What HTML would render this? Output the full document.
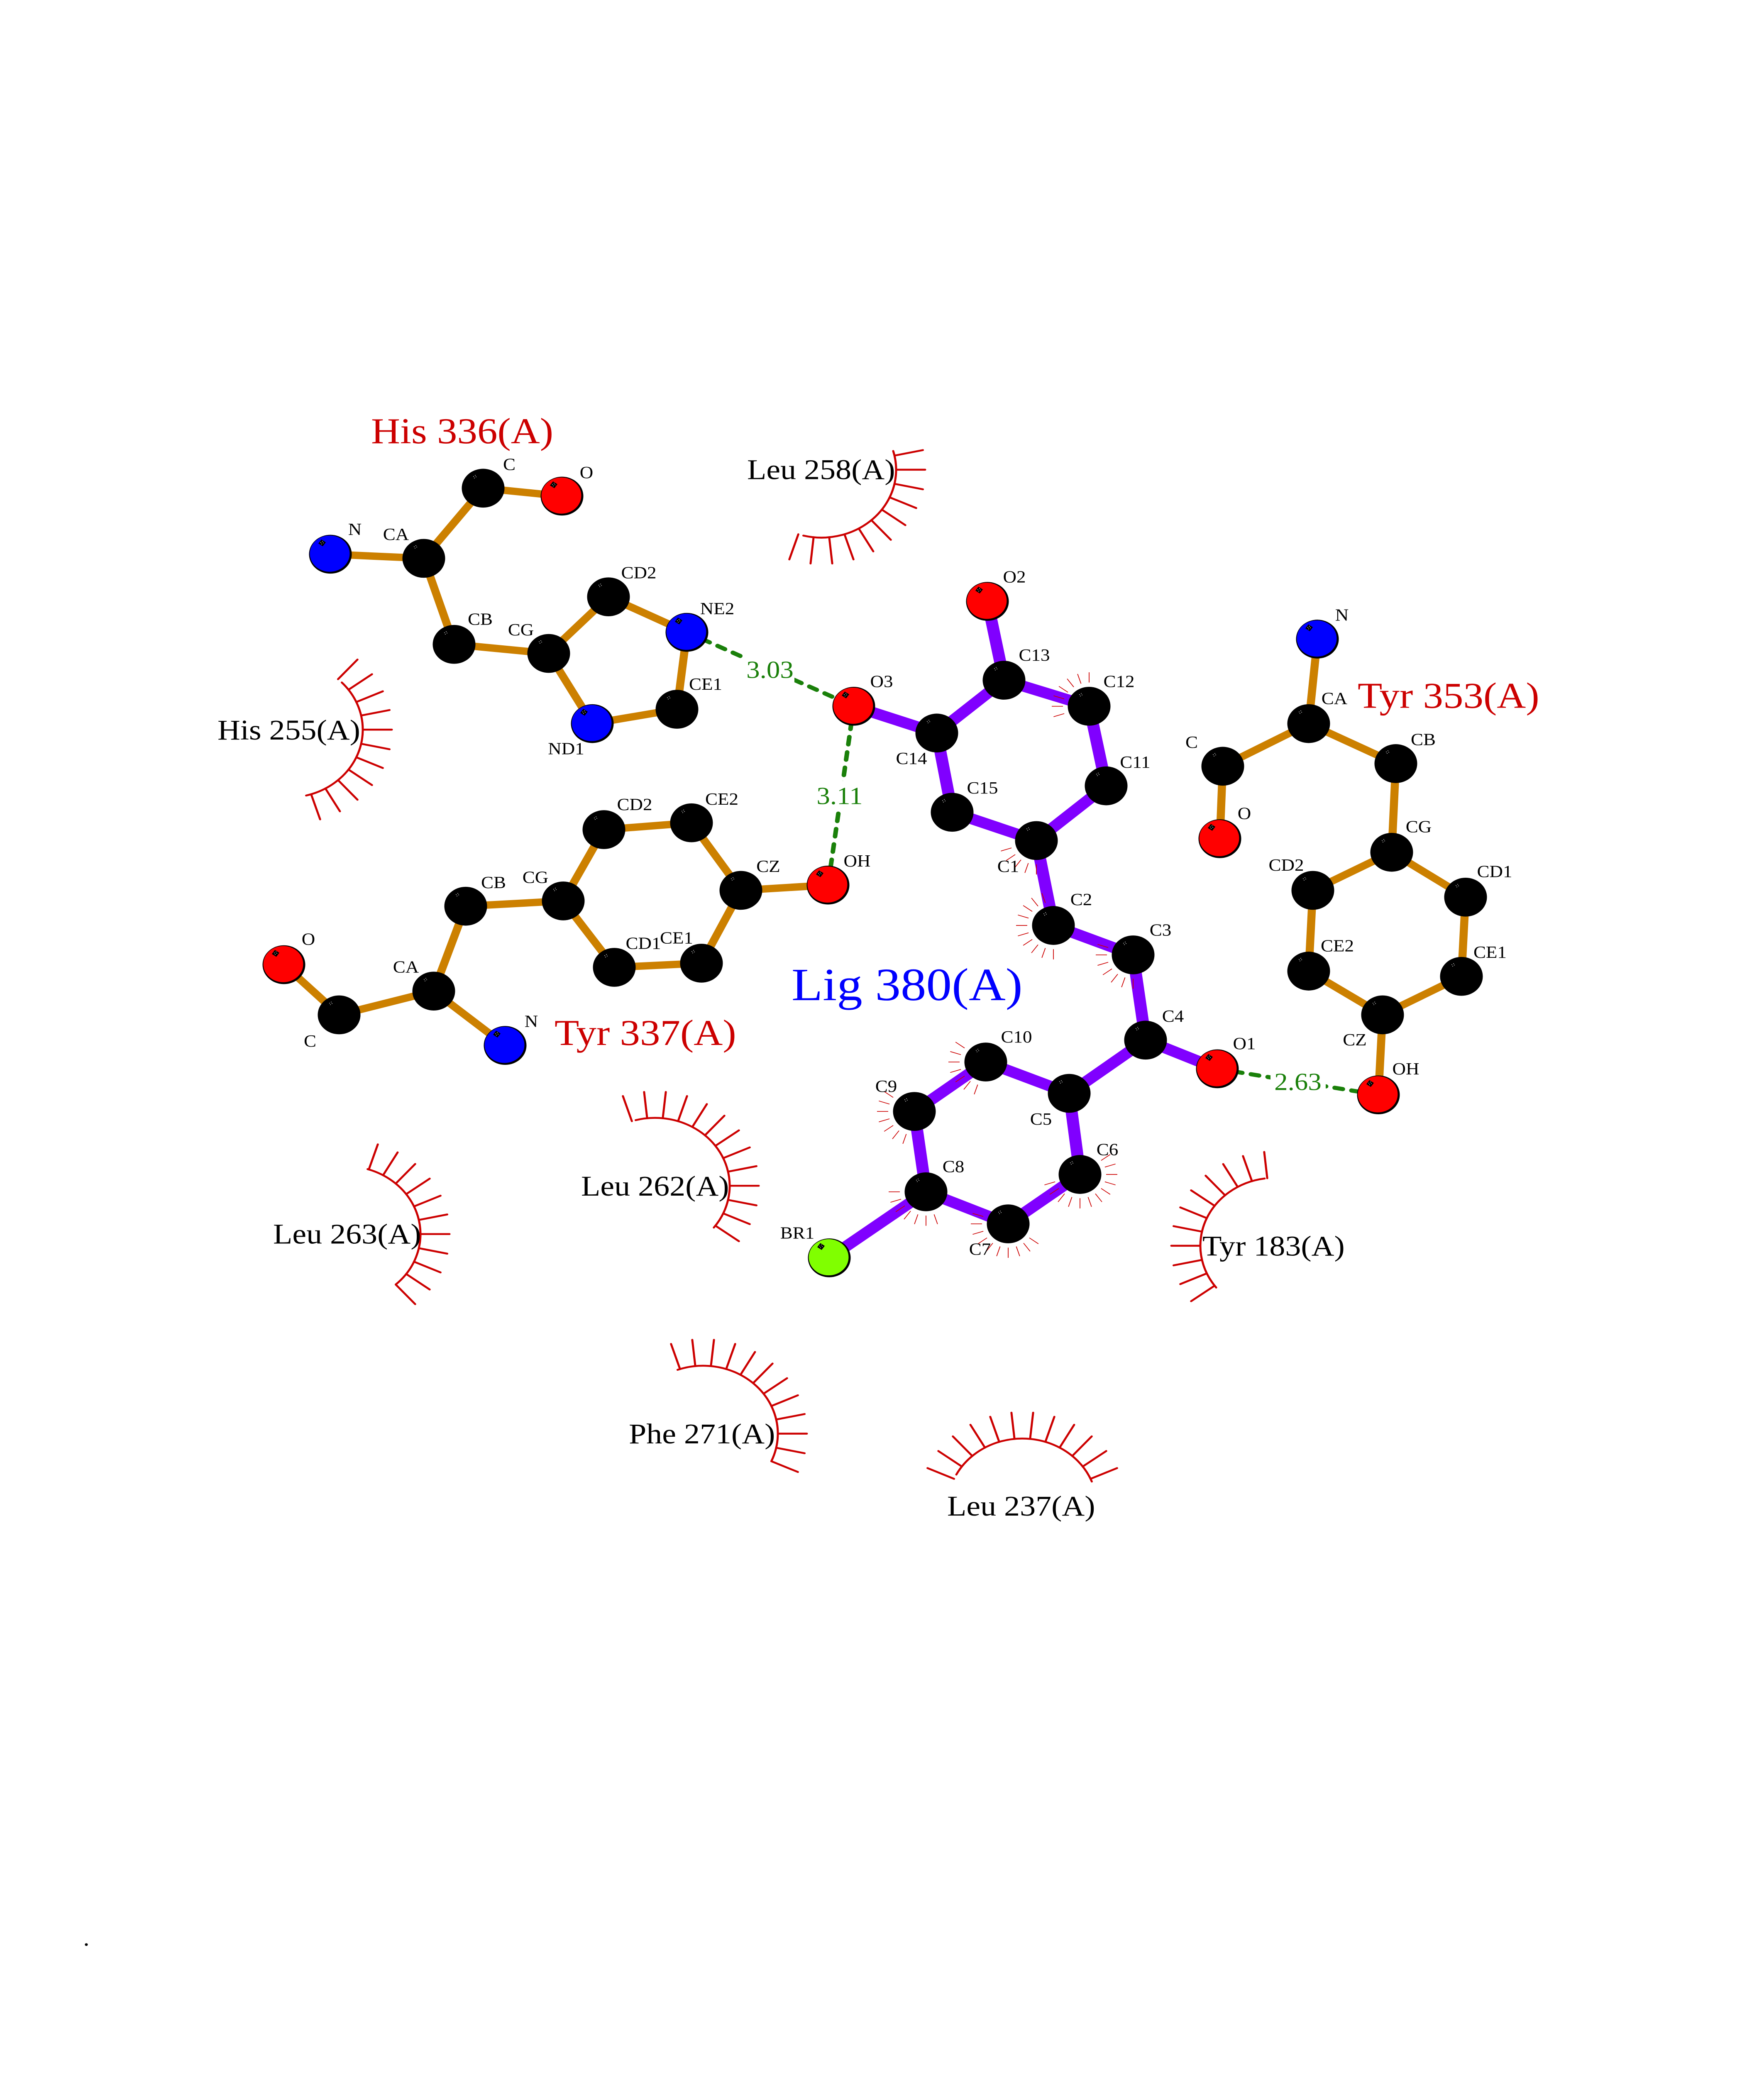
<!DOCTYPE html>
<html><head><meta charset="utf-8"><title>Ligand interaction diagram</title>
<style>
html,body{margin:0;padding:0;background:#fff;width:100%;height:100%;overflow:hidden}
svg{display:block;position:fixed;left:0;top:0;width:100vw;height:100vh;overflow:hidden}
text{font-family:"Liberation Serif",serif}
.a text{font-size:45px;text-anchor:middle;fill:#000}
.g text{font-size:65px;text-anchor:middle;fill:#1a800a}
.R text{font-size:76px;fill:#000}
.big text{font-size:97px;fill:#c00}
.o line{stroke:#cc8000;stroke-width:19.5}
.p line{stroke:#8000ff;stroke-width:29}
.h line{stroke:#1a800a;stroke-width:11;stroke-dasharray:20 21;stroke-linecap:round}
.w circle{fill:none;stroke:#c00;stroke-width:5;stroke-linecap:round}
</style></head><body>
<svg xmlns="http://www.w3.org/2000/svg" viewBox="0 0 4250 5500" preserveAspectRatio="none">
<defs>
<g id="m"><rect x="-6.5" y="-6.5" width="13" height="13" fill="#000" transform="translate(-20 -30) rotate(35)"/><g fill="#fff"><circle cx="-23" cy="-31" r="0.9"/><circle cx="-19" cy="-34" r="0.9"/><circle cx="-21" cy="-27" r="0.9"/><circle cx="-17" cy="-30" r="0.9"/></g></g>
<g id="k"><circle r="51.5" fill="#000"/><use href="#m"/></g>
<g id="r"><circle r="51.5" fill="#000"/><circle cx="-1.5" cy="-1.5" r="48" fill="#f00"/><use href="#m"/></g>
<g id="b"><circle r="51.5" fill="#000"/><circle cx="-1.5" cy="-1.5" r="48" fill="#00f"/><use href="#m"/></g>
<g id="l"><circle r="51.5" fill="#000"/><circle cx="-1.5" cy="-1.5" r="48" fill="#80ff00"/><use href="#m"/></g>
<line id="t" x1="63" x2="90" y1="0" y2="0"/>
<line id="T" x1="180" x2="250" y1="0" y2="0"/>
</defs>
<rect width="4250" height="5500" fill="#fff"/>

<!-- His 336 bonds -->
<g class="o">
<line x1="796" y1="1469" x2="1021" y2="1480"/><line x1="1021" y1="1480" x2="1164" y2="1294"/><line x1="1164" y1="1294" x2="1354" y2="1315"/><line x1="1021" y1="1480" x2="1094" y2="1708"/><line x1="1094" y1="1708" x2="1322" y2="1732"/><line x1="1322" y1="1732" x2="1466" y2="1582"/><line x1="1466" y1="1582" x2="1655" y2="1676"/><line x1="1655" y1="1676" x2="1631" y2="1880"/><line x1="1631" y1="1880" x2="1427" y2="1918"/><line x1="1427" y1="1918" x2="1322" y2="1732"/>
<!-- Tyr 337 -->
<line x1="684" y1="2557" x2="817" y2="2690"/><line x1="817" y1="2690" x2="1045" y2="2627"/><line x1="1045" y1="2627" x2="1217" y2="2771"/><line x1="1045" y1="2627" x2="1122" y2="2402"/><line x1="1122" y1="2402" x2="1357" y2="2388"/><line x1="1357" y1="2388" x2="1455" y2="2199"/><line x1="1455" y1="2199" x2="1666" y2="2181"/><line x1="1666" y1="2181" x2="1785" y2="2360"/><line x1="1785" y1="2360" x2="1690" y2="2553"/><line x1="1690" y1="2553" x2="1480" y2="2564"/><line x1="1480" y1="2564" x2="1357" y2="2388"/><line x1="1785" y1="2360" x2="1995" y2="2346"/>
<!-- Tyr 353 -->
<line x1="3174" y1="1694" x2="3153" y2="1918"/><line x1="3153" y1="1918" x2="2946" y2="2031"/><line x1="2946" y1="2031" x2="2939" y2="2223"/><line x1="3153" y1="1918" x2="3363" y2="2024"/><line x1="3363" y1="2024" x2="3353" y2="2259"/><line x1="3353" y1="2259" x2="3531" y2="2378"/><line x1="3531" y1="2378" x2="3521" y2="2588"/><line x1="3521" y1="2588" x2="3331" y2="2690"/><line x1="3331" y1="2690" x2="3153" y2="2574"/><line x1="3153" y1="2574" x2="3163" y2="2360"/><line x1="3163" y1="2360" x2="3353" y2="2259"/><line x1="3331" y1="2690" x2="3321" y2="2902"/>
</g>

<!-- Ligand bonds -->
<g class="p">
<line x1="2379" y1="1594" x2="2419" y2="1803"/><line x1="2419" y1="1803" x2="2624" y2="1872"/><line x1="2624" y1="1872" x2="2665" y2="2083"/><line x1="2665" y1="2083" x2="2497" y2="2228"/><line x1="2497" y1="2228" x2="2294" y2="2153"/><line x1="2294" y1="2153" x2="2257" y2="1943"/><line x1="2257" y1="1943" x2="2419" y2="1803"/><line x1="2257" y1="1943" x2="2057" y2="1872"/><line x1="2497" y1="2228" x2="2538" y2="2453"/><line x1="2538" y1="2453" x2="2730" y2="2531"/><line x1="2730" y1="2531" x2="2760" y2="2757"/><line x1="2760" y1="2757" x2="2933" y2="2833"/><line x1="2760" y1="2757" x2="2576" y2="2898"/><line x1="2576" y1="2898" x2="2375" y2="2815"/><line x1="2375" y1="2815" x2="2203" y2="2946"/><line x1="2203" y1="2946" x2="2231" y2="3159"/><line x1="2231" y1="3159" x2="2429" y2="3244"/><line x1="2429" y1="3244" x2="2602" y2="3113"/><line x1="2602" y1="3113" x2="2576" y2="2898"/><line x1="2231" y1="3159" x2="1998" y2="3334"/>
</g>

<!-- H-bonds -->
<g class="h">
<line x1="1655" y1="1676" x2="2057" y2="1872"/>
<line x1="2057" y1="1872" x2="1995" y2="2346"/>
<line x1="2933" y1="2833" x2="3321" y2="2902"/>
</g>
<g fill="#fff"><rect x="1796" y="1742" width="118" height="66"/><rect x="1964" y="2070" width="118" height="74"/><rect x="3061" y="2825" width="133" height="74"/></g>
<g class="g">
<text x="1855" y="1797">3.03</text>
<text x="2023" y="2131">3.11</text>
<text x="3127" y="2889">2.63</text>
</g>

<!-- Atoms -->
<use href="#b" x="796" y="1469"/><use href="#k" x="1021" y="1480"/><use href="#k" x="1164" y="1294"/><use href="#r" x="1354" y="1315"/><use href="#k" x="1094" y="1708"/><use href="#k" x="1322" y="1732"/><use href="#k" x="1466" y="1582"/><use href="#b" x="1655" y="1676"/><use href="#k" x="1631" y="1880"/><use href="#b" x="1427" y="1918"/>
<use href="#r" x="684" y="2557"/><use href="#k" x="817" y="2690"/><use href="#k" x="1045" y="2627"/><use href="#b" x="1217" y="2771"/><use href="#k" x="1122" y="2402"/><use href="#k" x="1357" y="2388"/><use href="#k" x="1455" y="2199"/><use href="#k" x="1666" y="2181"/><use href="#k" x="1785" y="2360"/><use href="#r" x="1995" y="2346"/><use href="#k" x="1690" y="2553"/><use href="#k" x="1480" y="2564"/>
<use href="#b" x="3174" y="1694"/><use href="#k" x="3153" y="1918"/><use href="#k" x="2946" y="2031"/><use href="#r" x="2939" y="2223"/><use href="#k" x="3363" y="2024"/><use href="#k" x="3353" y="2259"/><use href="#k" x="3531" y="2378"/><use href="#k" x="3163" y="2360"/><use href="#k" x="3521" y="2588"/><use href="#k" x="3153" y="2574"/><use href="#k" x="3331" y="2690"/><use href="#r" x="3321" y="2902"/>
<use href="#r" x="2379" y="1594"/><use href="#k" x="2419" y="1803"/><use href="#k" x="2624" y="1872"/><use href="#k" x="2665" y="2083"/><use href="#k" x="2497" y="2228"/><use href="#k" x="2294" y="2153"/><use href="#k" x="2257" y="1943"/><use href="#r" x="2057" y="1872"/><use href="#k" x="2538" y="2453"/><use href="#k" x="2730" y="2531"/><use href="#k" x="2760" y="2757"/><use href="#r" x="2933" y="2833"/><use href="#k" x="2576" y="2898"/><use href="#k" x="2375" y="2815"/><use href="#k" x="2203" y="2946"/><use href="#k" x="2231" y="3159"/><use href="#k" x="2429" y="3244"/><use href="#k" x="2602" y="3113"/><use href="#l" x="1998" y="3334"/>

<!-- Small atom contact fans -->
<g stroke="#c00" stroke-width="1.8">
<g transform="translate(2624 1872)"><use href="#t" transform="rotate(162)"/><use href="#t" transform="rotate(180)"/><use href="#t" transform="rotate(198)"/><use href="#t" transform="rotate(216)"/><use href="#t" transform="rotate(234)"/><use href="#t" transform="rotate(252)"/><use href="#t" transform="rotate(270)"/></g>
<g transform="translate(2497 2228)"><use href="#t" transform="rotate(90)"/><use href="#t" transform="rotate(108)"/><use href="#t" transform="rotate(126)"/><use href="#t" transform="rotate(144)"/><use href="#t" transform="rotate(162)"/></g>
<g transform="translate(2538 2453)"><use href="#t" transform="rotate(90)"/><use href="#t" transform="rotate(108)"/><use href="#t" transform="rotate(126)"/><use href="#t" transform="rotate(144)"/><use href="#t" transform="rotate(162)"/><use href="#t" transform="rotate(180)"/><use href="#t" transform="rotate(198)"/><use href="#t" transform="rotate(216)"/><use href="#t" transform="rotate(234)"/><use href="#t" transform="rotate(252)"/></g>
<g transform="translate(2730 2531)"><use href="#t" transform="rotate(90)"/><use href="#t" transform="rotate(108)"/><use href="#t" transform="rotate(126)"/><use href="#t" transform="rotate(144)"/><use href="#t" transform="rotate(162)"/><use href="#t" transform="rotate(180)"/><use href="#t" transform="rotate(198)"/></g>
<g transform="translate(2203 2946)"><use href="#t" transform="rotate(108)"/><use href="#t" transform="rotate(126)"/><use href="#t" transform="rotate(144)"/><use href="#t" transform="rotate(162)"/><use href="#t" transform="rotate(180)"/><use href="#t" transform="rotate(198)"/><use href="#t" transform="rotate(216)"/></g>
<g transform="translate(2375 2815)"><use href="#t" transform="rotate(108)"/><use href="#t" transform="rotate(126)"/><use href="#t" transform="rotate(144)"/><use href="#t" transform="rotate(162)"/><use href="#t" transform="rotate(180)"/><use href="#t" transform="rotate(198)"/><use href="#t" transform="rotate(216)"/></g>
<g transform="translate(2231 3159)"><use href="#t" transform="rotate(72)"/><use href="#t" transform="rotate(90)"/><use href="#t" transform="rotate(108)"/><use href="#t" transform="rotate(126)"/><use href="#t" transform="rotate(144)"/><use href="#t" transform="rotate(162)"/><use href="#t" transform="rotate(180)"/></g>
<g transform="translate(2429 3244)"><use href="#t" transform="rotate(36)"/><use href="#t" transform="rotate(54)"/><use href="#t" transform="rotate(72)"/><use href="#t" transform="rotate(90)"/><use href="#t" transform="rotate(108)"/><use href="#t" transform="rotate(126)"/><use href="#t" transform="rotate(144)"/><use href="#t" transform="rotate(162)"/><use href="#t" transform="rotate(180)"/><use href="#t" transform="rotate(198)"/></g>
<g transform="translate(2602 3113)"><use href="#t" transform="rotate(-36)"/><use href="#t" transform="rotate(-18)"/><use href="#t" transform="rotate(0)"/><use href="#t" transform="rotate(18)"/><use href="#t" transform="rotate(36)"/><use href="#t" transform="rotate(54)"/><use href="#t" transform="rotate(72)"/><use href="#t" transform="rotate(90)"/><use href="#t" transform="rotate(108)"/><use href="#t" transform="rotate(126)"/><use href="#t" transform="rotate(144)"/><use href="#t" transform="rotate(162)"/></g>
</g>

<!-- Hydrophobic arcs -->
<g class="w" stroke="#c00" stroke-width="5" stroke-linecap="round">
<g transform="translate(1979 1245)"><circle r="180" pathLength="360" stroke-dasharray="120 240" transform="rotate(-16)"/><use href="#T" transform="rotate(-12)"/><use href="#T" transform="rotate(0)"/><use href="#T" transform="rotate(12)"/><use href="#T" transform="rotate(24)"/><use href="#T" transform="rotate(36)"/><use href="#T" transform="rotate(48)"/><use href="#T" transform="rotate(60)"/><use href="#T" transform="rotate(72)"/><use href="#T" transform="rotate(84)"/><use href="#T" transform="rotate(96)"/><use href="#T" transform="rotate(108)"/></g>
<g transform="translate(694 1934)"><circle r="180" pathLength="360" stroke-dasharray="120 240" transform="rotate(-44)"/><use href="#T" transform="rotate(-48)"/><use href="#T" transform="rotate(-36)"/><use href="#T" transform="rotate(-24)"/><use href="#T" transform="rotate(-12)"/><use href="#T" transform="rotate(0)"/><use href="#T" transform="rotate(12)"/><use href="#T" transform="rotate(24)"/><use href="#T" transform="rotate(36)"/><use href="#T" transform="rotate(48)"/><use href="#T" transform="rotate(60)"/><use href="#T" transform="rotate(72)"/></g>
<g transform="translate(833 3271)"><circle r="180" pathLength="360" stroke-dasharray="121 239" transform="rotate(-73)"/><use href="#T" transform="rotate(-72)"/><use href="#T" transform="rotate(-60)"/><use href="#T" transform="rotate(-48)"/><use href="#T" transform="rotate(-36)"/><use href="#T" transform="rotate(-24)"/><use href="#T" transform="rotate(-12)"/><use href="#T" transform="rotate(0)"/><use href="#T" transform="rotate(12)"/><use href="#T" transform="rotate(24)"/><use href="#T" transform="rotate(36)"/><use href="#T" transform="rotate(48)"/></g>
<g transform="translate(1578 3143)"><circle r="180" pathLength="360" stroke-dasharray="143 217" transform="rotate(-105)"/><use href="#T" transform="rotate(-108)"/><use href="#T" transform="rotate(-96)"/><use href="#T" transform="rotate(-84)"/><use href="#T" transform="rotate(-72)"/><use href="#T" transform="rotate(-60)"/><use href="#T" transform="rotate(-48)"/><use href="#T" transform="rotate(-36)"/><use href="#T" transform="rotate(-24)"/><use href="#T" transform="rotate(-12)"/><use href="#T" transform="rotate(0)"/><use href="#T" transform="rotate(12)"/><use href="#T" transform="rotate(24)"/><use href="#T" transform="rotate(36)"/></g>
<g transform="translate(1694 3800)"><circle r="180" pathLength="360" stroke-dasharray="134 226" transform="rotate(-110)"/><use href="#T" transform="rotate(-108)"/><use href="#T" transform="rotate(-96)"/><use href="#T" transform="rotate(-84)"/><use href="#T" transform="rotate(-72)"/><use href="#T" transform="rotate(-60)"/><use href="#T" transform="rotate(-48)"/><use href="#T" transform="rotate(-36)"/><use href="#T" transform="rotate(-24)"/><use href="#T" transform="rotate(-12)"/><use href="#T" transform="rotate(0)"/><use href="#T" transform="rotate(12)"/><use href="#T" transform="rotate(24)"/></g>
<g transform="translate(2463 3993)"><circle r="180" pathLength="360" stroke-dasharray="130.5 229.5" transform="rotate(-152)"/><use href="#T" transform="rotate(-156)"/><use href="#T" transform="rotate(-144)"/><use href="#T" transform="rotate(-132)"/><use href="#T" transform="rotate(-120)"/><use href="#T" transform="rotate(-108)"/><use href="#T" transform="rotate(-96)"/><use href="#T" transform="rotate(-84)"/><use href="#T" transform="rotate(-72)"/><use href="#T" transform="rotate(-60)"/><use href="#T" transform="rotate(-48)"/><use href="#T" transform="rotate(-36)"/><use href="#T" transform="rotate(-24)"/></g>
<g transform="translate(3072 3302)"><circle r="180" pathLength="360" stroke-dasharray="120 240" transform="rotate(142)"/><use href="#T" transform="rotate(144)"/><use href="#T" transform="rotate(156)"/><use href="#T" transform="rotate(168)"/><use href="#T" transform="rotate(180)"/><use href="#T" transform="rotate(192)"/><use href="#T" transform="rotate(204)"/><use href="#T" transform="rotate(216)"/><use href="#T" transform="rotate(228)"/><use href="#T" transform="rotate(240)"/><use href="#T" transform="rotate(252)"/><use href="#T" transform="rotate(264)"/></g>
</g>

<!-- Atom labels -->
<g class="a">
<text x="855" y="1418">N</text><text x="954" y="1431">CA</text><text x="1227" y="1246">C</text><text x="1413" y="1267">O</text><text x="1157" y="1656">CB</text><text x="1255" y="1684">CG</text><text x="1539" y="1533">CD2</text><text x="1728" y="1628">NE2</text><text x="1700" y="1828">CE1</text><text x="1364" y="1999">ND1</text>
<text x="743" y="2504">O</text><text x="747" y="2774">C</text><text x="978" y="2578">CA</text><text x="1280" y="2722">N</text><text x="1189" y="2354">CB</text><text x="1290" y="2340">CG</text><text x="1529" y="2147">CD2</text><text x="1739" y="2133">CE2</text><text x="1851" y="2311">CZ</text><text x="2065" y="2297">OH</text><text x="1630" y="2501">CE1</text><text x="1550" y="2515">CD1</text>
<text x="2124" y="1821">O3</text><text x="2492" y="1751">C13</text><text x="2196" y="2025">C14</text><text x="2367" y="2103">C15</text><text x="2444" y="1544">O2</text><text x="2696" y="1821">C12</text><text x="2735" y="2035">C11</text><text x="2429" y="2311">C1</text><text x="2605" y="2399">C2</text><text x="2796" y="2480">C3</text><text x="2826" y="2708">C4</text><text x="2998" y="2781">O1</text><text x="2508" y="2981">C5</text><text x="2449" y="2763">C10</text><text x="2135" y="2894">C9</text><text x="2297" y="3107">C8</text><text x="2668" y="3062">C6</text><text x="2361" y="3326">C7</text><text x="1921" y="3283">BR1</text>
<text x="3233" y="1645">N</text><text x="3215" y="1866">CA</text><text x="2871" y="1982">C</text><text x="2998" y="2171">O</text><text x="3429" y="1975">CB</text><text x="3418" y="2206">CG</text><text x="3601" y="2325">CD1</text><text x="3099" y="2308">CD2</text><text x="3590" y="2539">CE1</text><text x="3222" y="2522">CE2</text><text x="3264" y="2771">CZ</text><text x="3387" y="2848">OH</text>
</g>

<!-- Residue labels -->
<g class="R">
<text x="1800" y="1270">Leu 258(A)</text>
<text x="524" y="1960">His 255(A)</text>
<text x="658" y="3296">Leu 263(A)</text>
<text x="1400" y="3169">Leu 262(A)</text>
<text x="1515" y="3826">Phe 271(A)</text>
<text x="2282" y="4017">Leu 237(A)</text>
<text x="2897" y="3328">Tyr 183(A)</text>
</g>
<g class="big">
<text x="894" y="1175">His 336(A)</text>
<text x="1336" y="2770">Tyr 337(A)</text>
<text x="3271" y="1876">Tyr 353(A)</text>
</g>
<text x="1907" y="2651" font-size="123" fill="#00f">Lig 380(A)</text>
<text x="200.5" y="5157" font-size="60" fill="#000">.</text>
</svg>
</body></html>
